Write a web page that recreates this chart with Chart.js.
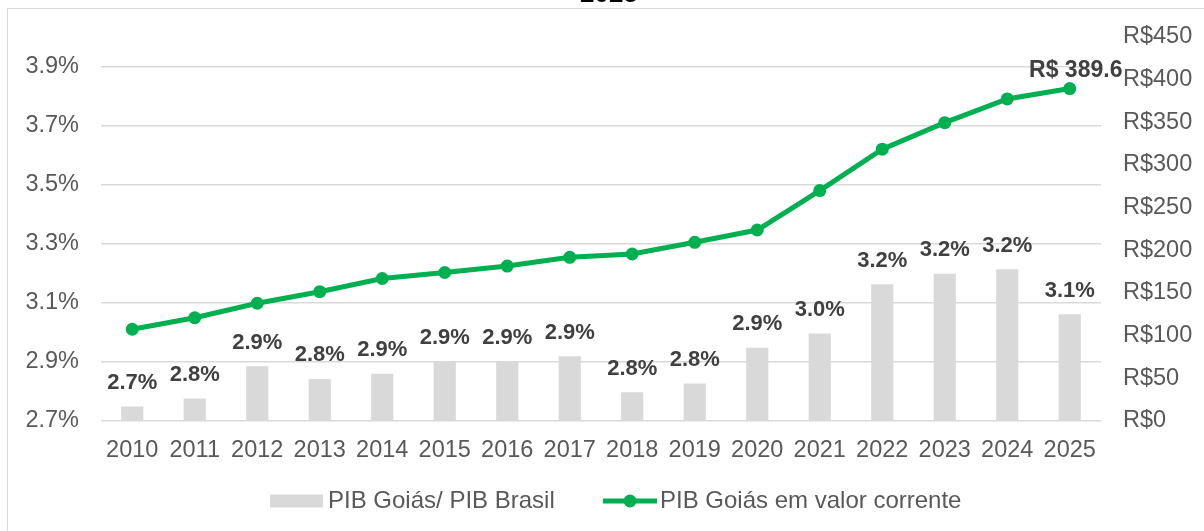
<!DOCTYPE html>
<html lang="pt-BR">
<head>
    <meta charset="UTF-8">
    <title>PIB Goiás</title>
    <script src="https://cdn.jsdelivr.net/npm/chart.js"></script>
    <style>
        body {
            margin: 0;
            overflow: hidden;
            background: #fff;
        }
        #wrap {
            position: relative;
            width: 1204px;
            height: 531px;
        }
    </style>
</head>
<body>
<div id="wrap"><canvas id="pibChart"></canvas></div>

<script>
    // dados
    const years = ['2010', '2011', '2012', '2013', '2014', '2015', '2016', '2017',
                   '2018', '2019', '2020', '2021', '2022', '2023', '2024', '2025'];
    const shareBrasil = [2.748, 2.775, 2.884, 2.841, 2.859, 2.899, 2.901, 2.918,
                         2.796, 2.826, 2.947, 2.995, 3.162, 3.197, 3.213, 3.060];
    const pibCorrente = [107.5, 121, 138, 151.5, 167, 174, 181.6, 191.8,
                         195.7, 209.4, 223.8, 270, 318.5, 349.6, 377.4, 389.6];
    const leftTicks = [2.7, 2.9, 3.1, 3.3, 3.5, 3.7, 3.9];
    const titleText = '2025';
    const seriesNames = ['PIB Goiás/ PIB Brasil', 'PIB Goiás em valor corrente'];

    const GREEN = '#00B050';
    const BAR_GRAY = '#D9D9D9';
    const TEXT_GRAY = '#595959';
    const FONT = 'Liberation Sans, Arial, sans-serif';

    // borda, título cortado e legenda (desenhados à mão, como no Excel)
    const decorPlugin = {
        id: 'decor',
        beforeDraw(chart) {
            const ctx = chart.ctx;
            ctx.save();
            ctx.strokeStyle = '#D9D9D9';
            ctx.lineWidth = 1;
            ctx.strokeRect(7.5, 8.5, 1300, 600);
            ctx.fillStyle = '#000';
            ctx.font = 'bold 26px ' + FONT;
            ctx.textAlign = 'center';
            ctx.textBaseline = 'alphabetic';
            ctx.fillText(titleText, 609, 2);
            ctx.restore();
        },
        afterDraw(chart) {
            const ctx = chart.ctx;
            const y = 501;
            ctx.save();
            ctx.font = '24px ' + FONT;
            ctx.textBaseline = 'middle';
            ctx.textAlign = 'left';
            // barra
            ctx.fillStyle = BAR_GRAY;
            ctx.fillRect(270, y - 6.5, 53, 13);
            ctx.fillStyle = TEXT_GRAY;
            ctx.fillText(seriesNames[0], 328, y);
            // linha
            ctx.strokeStyle = GREEN;
            ctx.lineWidth = 5;
            ctx.beginPath(); ctx.moveTo(603, y); ctx.lineTo(657, y); ctx.stroke();
            ctx.fillStyle = GREEN;
            ctx.beginPath(); ctx.arc(630, y, 6.5, 0, Math.PI * 2); ctx.fill();
            ctx.fillStyle = TEXT_GRAY;
            ctx.fillText(seriesNames[1], 660, y);
            ctx.restore();
        },
        afterDatasetsDraw(chart) {
            const ctx = chart.ctx;
            ctx.save();
            ctx.fillStyle = '#404040';
            ctx.font = 'bold 22px ' + FONT;
            ctx.textAlign = 'center';
            ctx.textBaseline = 'middle';
            chart.getDatasetMeta(0).data.forEach((bar, i) => {
                ctx.fillText(shareBrasil[i].toFixed(1) + '%', bar.x, bar.y - 24);
            });
            const pts = chart.getDatasetMeta(1).data;
            const last = pts[pts.length - 1];
            ctx.font = 'bold 23px ' + FONT;
            ctx.fillText('R$ ' + pibCorrente[pibCorrente.length - 1].toFixed(1), last.x + 6, last.y - 18);
            ctx.restore();
        }
    };

    const chart = new Chart(document.getElementById('pibChart'), {
        data: {
            labels: years,
            datasets: [
                {
                    type: 'bar',
                    label: seriesNames[0],
                    data: shareBrasil,
                    backgroundColor: BAR_GRAY,
                    barThickness: 21.5,
                    yAxisID: 'y',
                    order: 2
                },
                {
                    type: 'line',
                    label: seriesNames[1],
                    data: pibCorrente,
                    borderColor: GREEN,
                    backgroundColor: GREEN,
                    borderWidth: 5,
                    pointRadius: 6.5,
                    pointHoverRadius: 6.5,
                    pointBorderWidth: 0,
                    tension: 0,
                    yAxisID: 'y1',
                    order: 1
                }
            ]
        },
        options: {
            responsive: true,
            maintainAspectRatio: false,
            animation: false,
            layout: { padding: { top: 37, left: 0, right: 0, bottom: 0 } },
            plugins: {
                tooltip: { enabled: false },
                legend: { display: false }
            },
            scales: {
                x: {
                    grid: { display: false, drawTicks: false },
                    border: { display: false },
                    ticks: { color: TEXT_GRAY, font: { family: FONT, size: 23.5 }, padding: 15, maxRotation: 0, autoSkip: false },
                    afterFit: s => { s.height = 110; }
                },
                y: {
                    position: 'left',
                    min: 2.7,
                    max: 4.0,
                    afterBuildTicks: axis => { axis.ticks = leftTicks.map(v => ({ value: v })); },
                    grid: { color: '#D9D9D9', lineWidth: 1.5, drawTicks: false },
                    border: { display: false },
                    ticks: {
                        color: TEXT_GRAY,
                        font: { family: FONT, size: 23.5 },
                        padding: 22,
                        callback: v => v.toFixed(1) + '%'
                    },
                    afterFit: s => { s.width = 101; }
                },
                y1: {
                    position: 'right',
                    min: 0,
                    max: 450,
                    grid: { display: false, drawTicks: false },
                    border: { display: false },
                    ticks: {
                        stepSize: 50,
                        color: TEXT_GRAY,
                        font: { family: FONT, size: 23.5 },
                        padding: 22,
                        callback: v => 'R$' + v
                    },
                    afterFit: s => { s.width = 103; }
                }
            }
        },
        plugins: [decorPlugin]
    });
</script>
</body>
</html>
